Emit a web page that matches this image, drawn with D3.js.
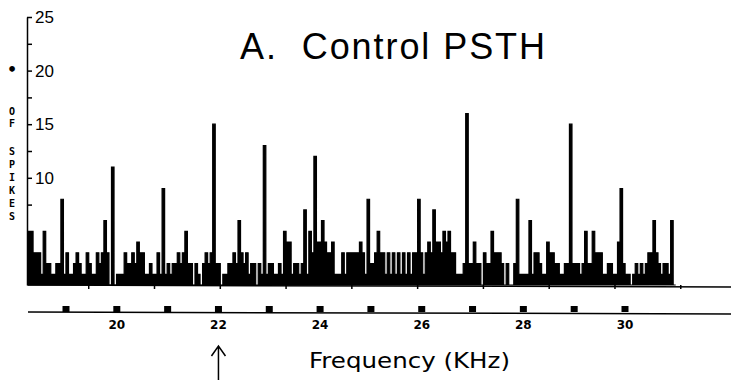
<!DOCTYPE html>
<html>
<head>
<meta charset="utf-8">
<script src="https://cdnjs.cloudflare.com/ajax/libs/d3/7.8.5/d3.min.js"></script>
<style>
body { margin: 0; background: #fff; }
</style>
</head>
<body>
<script>
// spike counts per PSTH bin (256 bins)
var spikeCounts = [
    5,5,3,3,3,1,5,2,2,1,1,2,2,8,1,3,1,1,2,3,2,1,1,3,2,1,1,3,2,3,6,3,0,11,0,1,1,1,3,2,2,3,2,
    4,3,3,1,1,2,1,1,3,1,9,1,2,1,2,2,3,2,3,5,2,2,0,2,1,0,2,3,2,3,15,2,2,0,1,1,2,2,3,2,6,3,2,
    3,1,2,2,0,2,1,13,1,2,2,1,1,2,1,5,4,4,1,2,2,1,2,7,1,5,3,12,4,4,6,4,3,3,4,1,1,1,3,1,3,3,3,
    3,3,4,3,1,8,2,2,3,5,3,3,1,3,1,3,1,3,1,3,1,3,1,3,3,8,3,1,3,4,3,7,4,4,3,5,4,5,3,3,1,1,1,2,
    16,2,2,4,2,2,0,3,2,2,5,3,3,3,2,0,2,0,0,2,8,1,1,1,1,6,1,3,3,2,1,1,4,3,3,2,2,1,1,2,2,15,2,2,
    2,1,2,5,2,2,5,3,3,3,1,1,2,2,1,1,4,9,2,1,1,0,1,2,1,2,1,2,3,3,6,3,2,1,2,2,1,6,0
];
var timeTicks = [24, 50, 76, 102, 128, 154, 180, 206, 232, 258];
var freqTicks = [19, 20, 21, 22, 23, 24, 25, 26, 27, 28, 29, 30];
var freqLabels = [20, 22, 24, 26, 28, 30];
var countTicks = [2.5, 5, 7.5, 10, 12.5, 15, 17.5, 20, 22.5, 25];
var countLabels = [10, 15, 20, 25];
var yTitleLetters = ["•", "O", "F", "S", "P", "I", "K", "E", "S"];
var stimFreq = 22;

function init() {
    var w = 731;
    var h = 389;

    var svg = d3.select("body")
                .append("svg")
                .attr("width", w)
                .attr("height", h);

    var xBin = d3.scaleLinear()
                 .domain([0, spikeCounts.length])
                 .range([28, 675.7]);
    var y = d3.scaleLinear()
              .domain([0, 25])
              .range([285, 17]);
    var xFreq = d3.scaleLinear()
                  .domain([19, 30])
                  .range([66, 625]);

    // histogram as a step area
    var area = d3.area()
                 .x(function (d, i) { return xBin(i); })
                 .y0(y(0))
                 .y1(function (d) { return y(d); })
                 .curve(d3.curveStepAfter);

    svg.append("path")
       .datum(spikeCounts.concat([0]))
       .attr("d", area)
       .attr("fill", "#000")
       .attr("stroke", "#000")
       .attr("stroke-width", 1.2);

    // baseline of the PSTH with its small time ticks
    svg.append("line")
       .attr("x1", 28).attr("x2", w)
       .attr("y1", y(0)).attr("y2", y(0) + 2)
       .attr("stroke", "#000")
       .attr("stroke-width", 1.5);

    svg.selectAll(".tt")
       .data(timeTicks)
       .enter()
       .append("line")
       .attr("class", "tt")
       .attr("x1", function (d) { return xBin(d); })
       .attr("x2", function (d) { return xBin(d); })
       .attr("y1", y(0))
       .attr("y2", y(0) + 4)
       .attr("stroke", "#000")
       .attr("stroke-width", 1.5);

    // count axis
    var yAxis = d3.axisRight(y)
                  .tickValues(countTicks)
                  .tickSize(5)
                  .tickSizeOuter(0)
                  .tickPadding(3)
                  .tickFormat(function (d) { return countLabels.indexOf(d) >= 0 ? d : ""; });

    var gy = svg.append("g")
                .attr("transform", "translate(27,0)")
                .call(yAxis);
    gy.select(".domain").attr("stroke-width", 1.5);
    gy.selectAll(".tick line").attr("stroke-width", 1.5);
    gy.selectAll("text")
      .attr("font-family", "Liberation Sans, Arial, sans-serif")
      .attr("font-size", 17)
      .attr("fill", "#000");

    // stacked letters of the count title
    var letterY = [71, 111, 123, 151, 164, 177, 190, 203, 216];
    svg.selectAll(".yl")
       .data(yTitleLetters)
       .enter()
       .append("text")
       .attr("class", "yl")
       .attr("x", 12)
       .attr("y", function (d, i) { return letterY[i] + 4; })
       .attr("text-anchor", "middle")
       .attr("font-family", "DejaVu Sans Mono, monospace")
       .attr("font-weight", "bold")
       .attr("font-size", function (d) { return d == "•" ? 16 : 10; })
       .text(function (d) { return d; });

    // frequency axis
    var fy = 312;
    svg.append("line")
       .attr("x1", 28).attr("x2", w)
       .attr("y1", fy).attr("y2", fy + 2)
       .attr("stroke", "#000")
       .attr("stroke-width", 1.5);

    svg.selectAll(".fm")
       .data(freqTicks)
       .enter()
       .append("rect")
       .attr("class", "fm")
       .attr("x", function (d) { return xFreq(d) - 3.5; })
       .attr("y", fy - 6)
       .attr("width", 7)
       .attr("height", 6)
       .attr("fill", "#000");

    svg.selectAll(".fl")
       .data(freqLabels)
       .enter()
       .append("text")
       .attr("class", "fl")
       .attr("x", function (d) { return xFreq(d); })
       .attr("y", fy + 17)
       .attr("text-anchor", "middle")
       .attr("font-family", "DejaVu Sans, sans-serif")
       .attr("font-weight", "bold")
       .attr("font-size", 12)
       .text(function (d) { return d; });

    // stimulus arrow
    var ax = xFreq(stimFreq);
    svg.append("path")
       .attr("d", "M" + ax + ",380V346M" + (ax - 7) + ",356L" + ax + ",346L" + (ax + 7) + ",356")
       .attr("fill", "none")
       .attr("stroke", "#000")
       .attr("stroke-width", 1.5);

    svg.append("text")
       .attr("x", 309)
       .attr("y", 368)
       .attr("font-family", "DejaVu Sans, sans-serif")
       .attr("font-size", 22)
       .attr("textLength", 201)
       .attr("lengthAdjust", "spacingAndGlyphs")
       .text("Frequency (KHz)");

    // title
    svg.append("text")
       .attr("x", 240)
       .attr("y", 59)
       .attr("xml:space", "preserve")
       .attr("font-family", "Liberation Sans, Arial, sans-serif")
       .attr("font-size", 36)
       .attr("textLength", 305)
       .attr("lengthAdjust", "spacing")
       .text("A.  Control PSTH");
}
window.onload = init;
</script>
</body>
</html>
